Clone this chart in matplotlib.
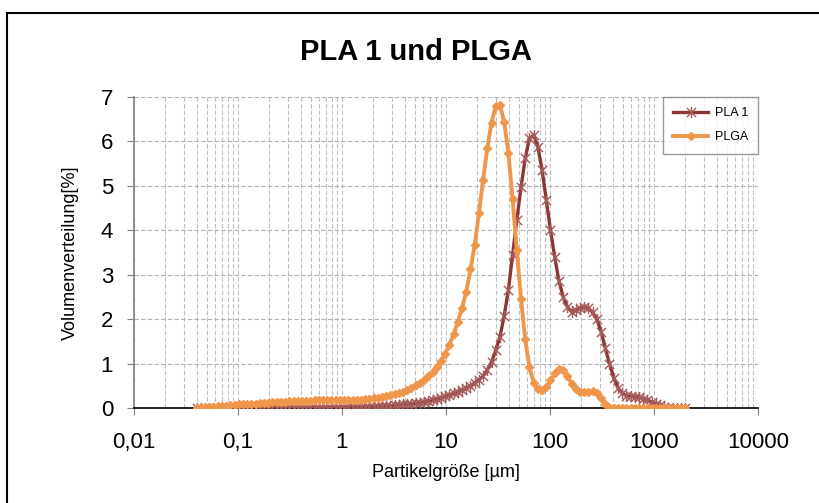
import matplotlib
matplotlib.use("Agg")
import matplotlib.pyplot as plt
from matplotlib.path import Path
from matplotlib.patches import Rectangle

plt.rcParams['font.family'] = ['Liberation Sans', 'DejaVu Sans']

# particle size classes [um]
size_um = [0.040, 0.0439, 0.0482, 0.0529, 0.0581, 0.0638, 0.070, 0.0768, 0.0844, 0.0926,
           0.1017, 0.1116, 0.1225, 0.1345, 0.1476, 0.1621, 0.1779, 0.1953, 0.2144, 0.2354,
           0.2584, 0.2836, 0.3114, 0.3418, 0.3752, 0.4119, 0.4522, 0.4964, 0.5449, 0.5982,
           0.6567, 0.7209, 0.7914, 0.8687, 0.9537, 1.047, 1.149, 1.262, 1.385, 1.520,
           1.669, 1.832, 2.011, 2.208, 2.424, 2.661, 2.921, 3.207, 3.520, 3.864,
           4.242, 4.657, 5.112, 5.612, 6.161, 6.763, 7.424, 8.150, 8.947, 9.822,
           10.78, 11.84, 12.99, 14.26, 15.66, 17.19, 18.87, 20.71, 22.74, 24.96,
           27.40, 30.08, 33.02, 36.25, 39.79, 43.68, 47.95, 52.64, 57.79, 63.44,
           69.64, 76.45, 83.92, 92.13, 101.1, 111.0, 121.9, 133.8, 146.9, 161.2,
           177.0, 194.3, 213.3, 234.1, 257.0, 282.1, 309.7, 340.0, 373.2, 409.7,
           449.8, 493.7, 542.0, 595.0, 653.2, 717.0, 787.1, 864.1, 948.5, 1041,
           1143, 1255, 1377, 1512, 1660, 1822, 2000]

pla1 = [0, 0, 0, 0, 0, 0, 0, 0, 0, 0,
        0, 0, 0, 0, 0, 0, 0, 0, 0, 0,
        0, 0, 0, 0, 0, 0, 0.01, 0.01, 0.01, 0.01,
        0.01, 0.01, 0.01, 0.01, 0.01, 0.01, 0.02, 0.02, 0.02, 0.02,
        0.02, 0.03, 0.03, 0.04, 0.04, 0.05, 0.05, 0.06, 0.07, 0.08,
        0.09, 0.10, 0.11, 0.12, 0.14, 0.16, 0.18, 0.20, 0.23, 0.26,
        0.29, 0.33, 0.37, 0.41, 0.45, 0.50, 0.56, 0.63, 0.72, 0.86,
        1.03, 1.30, 1.60, 2.08, 2.65, 3.45, 4.23, 4.97, 5.62, 6.07,
        6.14, 5.87, 5.36, 4.68, 4.00, 3.40, 2.86, 2.50, 2.27, 2.17,
        2.20, 2.25, 2.27, 2.25, 2.15, 2.00, 1.72, 1.35, 1.00, 0.68,
        0.45, 0.34, 0.28, 0.27, 0.25, 0.24, 0.21, 0.17, 0.14, 0.10,
        0.06, 0.03, 0.01, 0, 0, 0, 0]

plga = [0.00, 0.01, 0.02, 0.02, 0.03, 0.04, 0.05, 0.05, 0.06, 0.07,
        0.08, 0.08, 0.09, 0.10, 0.10, 0.11, 0.12, 0.12, 0.13, 0.13,
        0.14, 0.14, 0.15, 0.15, 0.15, 0.16, 0.16, 0.16, 0.17, 0.17,
        0.17, 0.17, 0.18, 0.18, 0.18, 0.18, 0.18, 0.19, 0.19, 0.19,
        0.20, 0.21, 0.22, 0.23, 0.25, 0.27, 0.29, 0.31, 0.34, 0.37,
        0.41, 0.46, 0.51, 0.57, 0.64, 0.72, 0.82, 0.93, 1.05, 1.22,
        1.42, 1.66, 1.94, 2.25, 2.62, 3.12, 3.66, 4.38, 5.13, 5.85,
        6.42, 6.80, 6.82, 6.44, 5.74, 4.70, 3.56, 2.45, 1.55, 0.92,
        0.56, 0.42, 0.40, 0.48, 0.62, 0.78, 0.87, 0.85, 0.72, 0.55,
        0.43, 0.37, 0.35, 0.36, 0.38, 0.34, 0.22, 0.09, 0.02, 0,
        0, 0, 0, 0, 0, 0, 0, 0, 0, 0,
        0, 0, 0, 0, 0, 0, 0]

x_ticks = [0.01, 0.1, 1, 10, 100, 1000, 10000]
x_ticklabels = ["0,01", "0,1", "1", "10", "100", "1000", "10000"]
y_ticks = [0, 1, 2, 3, 4, 5, 6, 7]

# Excel-like star marker: x plus vertical bar
star = Path([(-1, -1), (1, 1), (-1, 1), (1, -1), (0, -1.2), (0, 1.2)],
            [Path.MOVETO, Path.LINETO, Path.MOVETO, Path.LINETO, Path.MOVETO, Path.LINETO])

fig = plt.figure(figsize=(8.2, 5.03), dpi=100)
ax = fig.add_axes([134 / 820, 95 / 503, 624 / 820, 311 / 503])

ax.plot(size_um, pla1, color="#8c3535", lw=2.4, marker=star, ms=8,
        mfc="none", mec="#a65a5a", mew=1.0, label="PLA 1", zorder=3)
ax.plot(size_um, plga, color="#f0964a", lw=2.8, marker="D", ms=4.5,
        mfc="#f0964a", mec="#f0964a", label="PLGA", zorder=4)

ax.set_xscale("log")
ax.set_xlim(0.01, 10000)
ax.set_ylim(0, 7)
ax.set_xticks(x_ticks)
ax.set_xticklabels(x_ticklabels)
ax.set_yticks(y_ticks)
ax.xaxis.set_minor_formatter(plt.NullFormatter())
ax.tick_params(axis="x", which="minor", length=0)
ax.tick_params(axis="both", which="major", direction="out", length=5,
               labelsize=16, color="#808080")
ax.tick_params(axis="x", which="major", pad=12)
ax.tick_params(axis="y", which="major", pad=10)

ax.grid(True, which="both", axis="x", color="#c0c0c0", ls=(0, (4, 2)), lw=0.8)
ax.grid(True, which="major", axis="y", color="#b0b0b0", ls=(0, (4, 2)), lw=0.8)
ax.set_axisbelow(True)

for side in ["top", "right"]:
    ax.spines[side].set_visible(False)
ax.spines["left"].set_color("#808080")
ax.spines["left"].set_linewidth(1.2)
ax.spines["bottom"].set_color("black")
ax.spines["bottom"].set_linewidth(1.2)

ax.set_xlabel("Partikelgröße [µm]", fontsize=13, labelpad=8)
ax.set_ylabel("Volumenverteilung[%]", fontsize=13, labelpad=16)
fig.text(416 / 820, 1 - 52 / 503, "PLA 1 und PLGA", ha="center", va="center",
         fontsize=21, fontweight="bold")

leg = ax.legend(loc="upper right", bbox_to_anchor=(1.0, 1.0), borderaxespad=0,
                fontsize=9, frameon=True, fancybox=False, handlelength=2.8,
                borderpad=0.8, labelspacing=1.0, handletextpad=0.5)
leg.get_frame().set_edgecolor("#808080")
leg.get_frame().set_linewidth(1.0)

# chart border
fig.patches.append(Rectangle((7 / 820, -0.05), 1.2, 1 - 13 / 503 + 0.05,
                             transform=fig.transFigure, fill=False,
                             edgecolor="black", lw=1.5))

plt.savefig("out.png", dpi=100)
